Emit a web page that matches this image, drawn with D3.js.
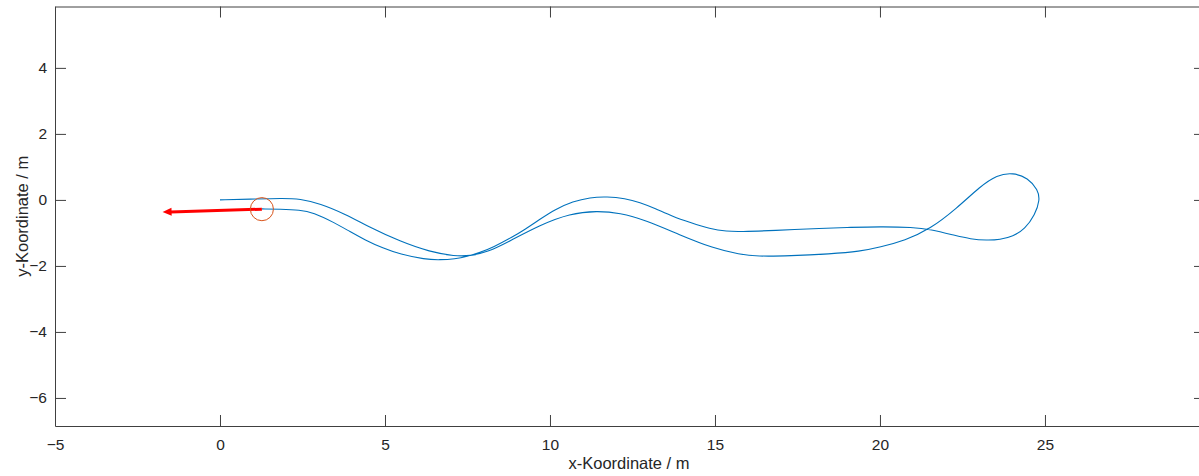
<!DOCTYPE html>
<html>
<head>
<meta charset="utf-8">
<script src="https://cdn.jsdelivr.net/npm/d3@7"></script>
<style>
  body { margin: 0; background: #fff; }
  svg { display: block; font-family: "Liberation Sans", Arial, Helvetica, sans-serif; }
  .axis .domain, .axis line { stroke: #404040; stroke-width: 1; }
  .axis text { fill: #262626; font-size: 15.5px; }
</style>
</head>
<body>
<svg id="chart" width="1199" height="476"></svg>
<script>
const width = 1199;
const height = 476;
const plotLeft = 55;
const plotRight = 1205;
const plotTop = 6.5;
const plotBottom = 426;
const tickLen = 11;

const xDomain = [-5, 29.85];
const yDomain = [-6.85, 5.86];
const xTicks = [-5, 0, 5, 10, 15, 20, 25];
const yTicks = [-6, -4, -2, 0, 2, 4];

// trajectory (metres)
const pathX = [0, 0.909, 1.909, 2.424, 3.030, 3.788, 4.545, 5.455, 6.364, 7.121, 7.576,
  8.091, 8.788, 9.697, 10.606, 11.424, 12.121, 12.879, 13.939, 14.939, 15.758, 16.273,
  17.273, 18.485, 19.394, 20.0, 20.758, 21.515, 22.333, 23.030, 23.545, 24.030, 24.485,
  24.788, 24.848, 24.697, 24.394, 24.030, 23.636, 23.242, 22.727, 22.333, 21.515, 21.0,
  20.0, 19.091, 18.273, 16.758, 15.758, 15.364, 14.848, 14.242, 13.727, 13.182, 12.727,
  12.273, 11.727, 11.212, 10.697, 10.152, 9.697, 9.242, 8.879, 8.273, 7.879, 7.485,
  7.121, 6.667, 6.212, 5.455, 4.939, 4.394, 3.939, 3.485, 2.818, 2.424, 1.818, 1.273];
const pathY = [0, 0.021, 0.052, 0.030, -0.106, -0.424, -0.833, -1.258, -1.576, -1.706, -1.697,
  -1.591, -1.242, -0.758, -0.409, -0.333, -0.394, -0.606, -1.061, -1.464, -1.652, -1.712,
  -1.697, -1.636, -1.561, -1.433, -1.227, -0.888, -0.252, 0.403, 0.758, 0.827, 0.667,
  0.303, 0.000, -0.455, -0.879, -1.106, -1.203, -1.227, -1.182, -1.091, -0.888, -0.827,
  -0.809, -0.833, -0.858, -0.930, -0.961, -0.955, -0.879, -0.682, -0.506, -0.258, -0.076,
  0.045, 0.100, 0.076, -0.045, -0.288, -0.585, -0.894, -1.112, -1.439, -1.591, -1.718,
  -1.788, -1.818, -1.803, -1.645, -1.464, -1.212, -0.961, -0.697, -0.379, -0.303, -0.282, -0.273];

const arrowFrom = [1.27, -0.28];
const arrowTo = [-1.74, -0.37];
const circleCenter = [1.27, -0.28];
const circleRadius = 0.35;

const svg = d3.select("#chart");

const x = d3.scaleLinear().domain(xDomain).range([plotLeft, plotRight]);
const y = d3.scaleLinear().domain(yDomain).range([plotBottom, plotTop]);

function drawAxes() {
  svg.append("g")
    .attr("class", "axis")
    .attr("transform", `translate(0,${plotBottom})`)
    .call(d3.axisBottom(x).tickValues(xTicks).tickSizeInner(-tickLen).tickSizeOuter(0).tickPadding(12.5));

  svg.append("g")
    .attr("class", "axis")
    .attr("transform", `translate(0,${plotTop})`)
    .call(d3.axisTop(x).tickValues(xTicks).tickSizeInner(-tickLen).tickSizeOuter(0).tickFormat(""));

  svg.append("g")
    .attr("class", "axis")
    .attr("transform", `translate(${plotLeft},0)`)
    .call(d3.axisLeft(y).tickValues(yTicks).tickSizeInner(-tickLen).tickSizeOuter(0).tickPadding(8));

  svg.append("g")
    .attr("class", "axis")
    .attr("transform", `translate(${plotRight},0)`)
    .call(d3.axisRight(y).tickValues(yTicks).tickSizeInner(-tickLen).tickSizeOuter(0).tickFormat(""));

  svg.selectAll(".axis text").attr("font-family", null).attr("font-size", null);

  svg.append("text")
    .attr("x", (plotLeft + plotRight) / 2 - 1)
    .attr("y", 469)
    .attr("text-anchor", "middle")
    .attr("fill", "#262626")
    .style("font-size", "16.5px")
    .text("x-Koordinate / m");

  svg.append("text")
    .attr("transform", `translate(22,${(plotTop + plotBottom) / 2}) rotate(-90)`)
    .attr("dy", "0.35em")
    .attr("text-anchor", "middle")
    .attr("fill", "#262626")
    .style("font-size", "16.5px")
    .text("y-Koordinate / m");
}

function drawPath() {
  const points = pathX.map((d, i) => [d, pathY[i]]);
  const line = d3.line()
    .x(d => x(d[0]))
    .y(d => y(d[1]))
    .curve(d3.curveBasis);

  svg.append("path")
    .datum(points)
    .attr("fill", "none")
    .attr("stroke", "#0072BD")
    .attr("stroke-width", 1.1)
    .attr("d", line);
}

function drawArrow() {
  const x0 = x(arrowFrom[0]), y0 = y(arrowFrom[1]);
  const x1 = x(arrowTo[0]), y1 = y(arrowTo[1]);
  const len = Math.hypot(x1 - x0, y1 - y0);
  const ux = (x1 - x0) / len, uy = (y1 - y0) / len;
  const headLen = 9, headW = 4;
  const bx = x1 - ux * headLen, by = y1 - uy * headLen;

  svg.append("line")
    .attr("x1", x0).attr("y1", y0)
    .attr("x2", bx + ux * 1).attr("y2", by + uy * 1)
    .attr("stroke", "#ff0000")
    .attr("stroke-width", 3);

  svg.append("path")
    .attr("d", `M${x1},${y1}L${bx - uy * headW},${by + ux * headW}L${bx + uy * headW},${by - ux * headW}Z`)
    .attr("fill", "#ff0000");

  svg.append("circle")
    .attr("cx", x(circleCenter[0]))
    .attr("cy", y(circleCenter[1]))
    .attr("r", x(circleCenter[0] + circleRadius) - x(circleCenter[0]))
    .attr("fill", "none")
    .attr("stroke", "#D95319")
    .attr("stroke-width", 1);
}

drawAxes();
drawPath();
drawArrow();
</script>
</body>
</html>
